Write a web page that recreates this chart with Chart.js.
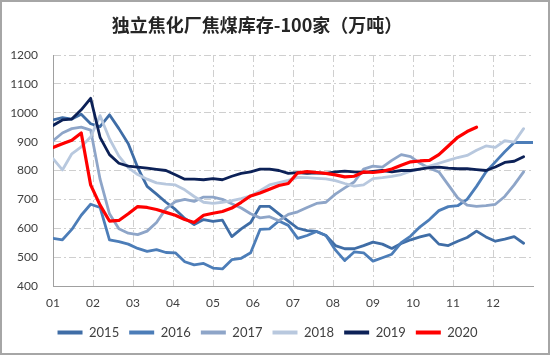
<!DOCTYPE html>
<html><head><meta charset="utf-8">
<script src="https://cdn.jsdelivr.net/npm/chart.js@4.4.1/dist/chart.umd.min.js"></script>
<style>
html,body{margin:0;padding:0;background:#fff;}
#wrap{position:absolute;left:0;top:0;width:546px;height:351px;border:2px solid #a6a6a6;background:#fff;}
canvas{display:block;}
</style></head><body>
<div id="wrap"><canvas id="c" width="546" height="351"></canvas></div>
<script>
const chartTitle = '独立焦化厂焦煤库存-100家（万吨）';
const monthLabels = ['01','02','03','04','05','06','07','08','09','10','11','12'];
const yTickValues = [400,500,600,700,800,900,1000,1100,1200];
const seriesNames = ['2015','2016','2017','2018','2019','2020'];
const seriesColors = ['#3F6DA6','#4C7DB8','#8EA5C8','#B8C8DE','#0C2157','#FF0000'];

// weekly values (week index 0..51)
const s2015 = [975,983,978,995,962,952,993,945,893,810,745,718,690,665,634,613,630,624,628,571,598,620,676,676,650,625,600,592,589,575,540,529,529,540,552,545,530,547,560,570,578,545,540,555,568,590,570,555,562,571,548];
const s2016 = [565,560,596,645,683,672,560,554,545,530,520,526,516,515,484,473,478,462,459,491,496,515,596,598,625,610,565,575,589,575,525,488,518,515,486,498,510,550,573,605,630,661,675,678,700,745,795,830,865,897,897,897];
const s2017 = [903,930,945,950,940,770,650,598,583,578,590,620,668,692,700,693,708,708,700,685,670,650,636,640,626,648,657,672,686,690,718,740,760,805,815,812,835,855,848,825,808,795,750,705,680,676,678,683,710,750,795];
const s2018 = [841,802,858,882,916,990,910,850,810,786,770,757,753,750,733,710,690,686,690,696,703,712,730,750,758,766,776,775,773,771,765,755,746,750,772,775,780,786,798,806,815,825,835,845,852,870,885,880,903,898,945];
const s2019 = [956,975,978,1010,1050,915,855,825,815,812,808,804,800,785,770,770,768,772,768,780,790,795,805,805,800,790,793,790,792,790,795,798,795,793,797,800,795,800,800,805,810,812,808,806,806,803,800,812,828,832,848];
const s2020 = [880,893,905,930,750,680,625,627,650,675,672,665,655,645,630,620,645,652,658,670,690,712,722,735,748,755,792,796,793,790,785,778,780,795,793,797,805,818,830,833,835,855,885,915,935,950];

const seriesValues = [s2015,s2016,s2017,s2018,s2019,s2020];
const WEEK_MAX = 51;

const datasets = seriesValues.map((vals, k) => ({
  label: seriesNames[k],
  data: vals.map((v, i) => ({x: i, y: v})),
  borderColor: seriesColors[k],
  backgroundColor: seriesColors[k],
  borderWidth: k === 5 ? 3.2 : 2.8,
  pointRadius: 0,
  tension: 0,
  borderJoinStyle: 'round',
  borderCapStyle: 'round',
  order: seriesValues.length - 1 - k
}));

const titlePlugin = {
  id: 'customTitle',
  afterDraw(chart) {
    const ctx = chart.ctx;
    ctx.save();
    ctx.font = 'bold 18px "Noto Sans CJK SC"';
    ctx.fillStyle = '#262626';
    ctx.textAlign = 'center';
    ctx.textBaseline = 'middle';
    ctx.fillText(chartTitle, 255, 23);
    ctx.restore();
  }
};

const tickFont = {family: 'Lato', size: 12};

new Chart(document.getElementById('c'), {
  type: 'line',
  data: {datasets},
  plugins: [titlePlugin],
  options: {
    responsive: false,
    animation: false,
    layout: {padding: {left: 0, right: 15, top: 53, bottom: 4}},
    plugins: {
      title: {display: false},
      tooltip: {enabled: false},
      legend: {
        position: 'bottom',
        labels: {
          boxWidth: 25,
          boxHeight: 4,
          padding: 10,
          color: '#404040',
          font: {family: 'Lato', size: 13},
          generateLabels: (chart) => chart.data.datasets.map((d, i) => ({
            text: d.label,
            fillStyle: d.borderColor,
            strokeStyle: d.borderColor,
            lineWidth: 0,
            hidden: false,
            datasetIndex: i,
            fontColor: '#404040'
          }))
        }
      }
    },
    scales: {
      x: {
        type: 'linear',
        min: 0,
        max: WEEK_MAX,
        afterBuildTicks: (axis) => {
          axis.ticks = monthLabels.map((l, m) => ({value: m * WEEK_MAX / 12}));
        },
        afterFit: (axis) => { axis.height = 30; },
        ticks: {
          autoSkip: false,
          maxRotation: 0,
          padding: 10,
          color: '#404040',
          font: tickFont,
          callback: (v, i) => monthLabels[i]
        },
        grid: {color: '#cfcfcf', lineWidth: 1, drawTicks: false},
        border: {display: true, color: '#a0a0a0', width: 1, dash: [7, 3, 2, 3]}
      },
      y: {
        min: 400,
        max: 1200,
        afterBuildTicks: (axis) => {
          axis.ticks = yTickValues.map(v => ({value: v}));
        },
        afterFit: (axis) => { axis.width = 51; },
        ticks: {
          padding: 15,
          color: '#404040',
          font: tickFont,
          callback: (v) => String(v)
        },
        grid: {color: '#cfcfcf', lineWidth: 1, drawTicks: false},
        border: {display: true, color: '#a0a0a0', width: 1, dash: [7, 3, 2, 3]}
      }
    }
  }
});
</script>
</body></html>
